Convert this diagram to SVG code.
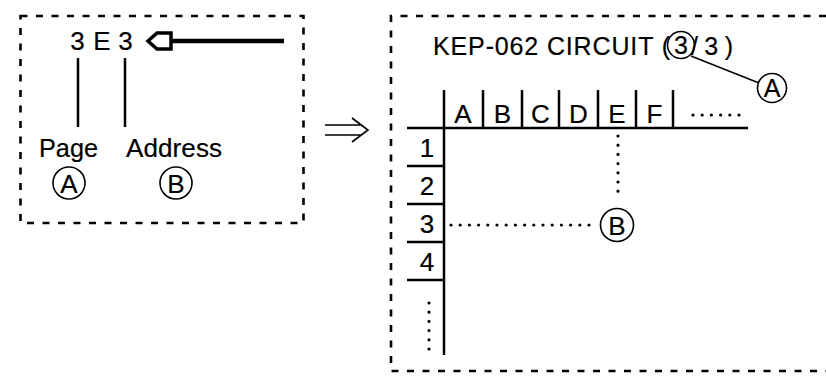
<svg xmlns="http://www.w3.org/2000/svg" width="826" height="380" viewBox="0 0 826 380">
<style>
text{font-family:"Liberation Sans",Arial,sans-serif;fill:#000;stroke:#000;stroke-width:0.2;}
.dash{fill:none;stroke:#000;stroke-width:2.6;stroke-dasharray:7 8.5;}
.ln{fill:none;stroke:#000;stroke-width:2.5;}
.thin{fill:none;stroke:#000;stroke-width:1.6;}
.dot{fill:none;stroke:#000;stroke-width:3.2;stroke-linecap:round;stroke-dasharray:0 9.2;}
.c{fill:none;stroke:#000;stroke-width:1.6;}
.t26{font-size:26px;}
.t25{font-size:25px;}
.mid{text-anchor:middle;}
</style>
<rect width="826" height="380" fill="#fff"/>
<g id="left-box">
<rect class="dash" x="20.5" y="16" width="283" height="207"/>
<text class="t26 mid" x="77.5" y="50">3</text>
<text class="t26 mid" x="102" y="50">E</text>
<text class="t26 mid" x="125.5" y="50">3</text>
<path d="M148,41 L157,33 L171,33 L171,49 L157,49 Z" fill="#fff" stroke="#000" stroke-width="3.5" stroke-linejoin="miter"/>
<line x1="172" y1="41" x2="284" y2="41" stroke="#000" stroke-width="4.5"/>
<line class="ln" x1="78" y1="58" x2="78" y2="127"/>
<line class="ln" x1="125" y1="58" x2="125" y2="127"/>
<text class="t26" x="39" y="157" textLength="59" lengthAdjust="spacingAndGlyphs">Page</text>
<text class="t26" x="126" y="157" textLength="96" lengthAdjust="spacing">Address</text>
<circle class="c" cx="69" cy="183" r="16"/>
<text class="t26 mid" x="69" y="192.5">A</text>
<circle class="c" cx="176" cy="183" r="16"/>
<text class="t26 mid" x="176" y="192.5">B</text>
</g>
<g id="connectors">
<path class="thin" d="M325,125 H362 M325,135 H362 M352,118 L368,130 L352,142"/>
<line class="c" x1="691" y1="56" x2="759" y2="83"/>
<line class="dot" x1="618" y1="136" x2="618" y2="200"/>
<line class="dot" x1="451" y1="225" x2="595" y2="225"/>
</g>
<g id="right-box">
<path class="dash" d="M826,16 H391 V371 H826"/>
<text class="t25" x="433" y="55" textLength="237" lengthAdjust="spacing">KEP-062 CIRCUIT (</text>
<circle class="c" cx="681" cy="45" r="13.5"/>
<text class="t25 mid" x="681" y="54">3</text>
<text class="t25" x="691" y="55" textLength="42" lengthAdjust="spacing">/ 3 )</text>
<circle class="c" cx="772" cy="88" r="14.5"/>
<text class="t25 mid" x="772" y="97">A</text>
</g>
<g id="table">
<path class="ln" d="M407,128 H748 M444,90 V355 M483,90 V128 M522,90 V128 M559,90 V128 M598,90 V128 M636,90 V128 M673,90 V128 M407,166 H444 M407,204 H444 M407,242 H444 M407,280 H444"/>
<text class="t26 mid" x="463" y="123">A</text>
<text class="t26 mid" x="502.5" y="123">B</text>
<text class="t26 mid" x="540.5" y="123">C</text>
<text class="t26 mid" x="578.5" y="123">D</text>
<text class="t26 mid" x="617" y="123">E</text>
<text class="t26 mid" x="654.5" y="123">F</text>
<line class="dot" x1="693" y1="115" x2="740" y2="115"/>
<text class="t26 mid" x="427" y="157">1</text>
<text class="t26 mid" x="427" y="195">2</text>
<text class="t26 mid" x="427" y="233">3</text>
<text class="t26 mid" x="427" y="271">4</text>
<line class="dot" x1="429" y1="303" x2="429" y2="349"/>
</g>
<g id="node-B">
<circle class="c" cx="617" cy="225" r="16.5"/>
<text class="t26 mid" x="617" y="234.5">B</text>
</g>
</svg>
